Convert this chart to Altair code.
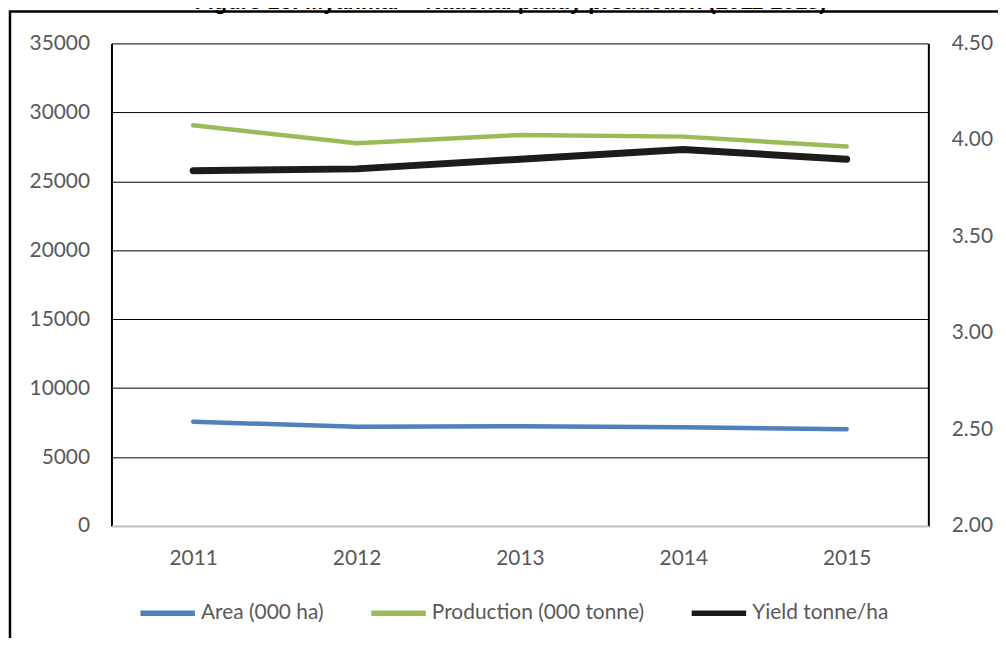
import altair as alt
import pandas as pd

years = ["2011", "2012", "2013", "2014", "2015"]
area = [7560, 7200, 7230, 7160, 7020]
production = [29060, 27760, 28360, 28240, 27520]
yield_t = [3.84, 3.85, 3.90, 3.95, 3.90]
series = ["Area (000 ha)", "Production (000 tonne)", "Yield tonne/ha"]
colors = ["#4F81BD", "#9BBB59", "#1C1C1C"]
left_ticks = [0, 5000, 10000, 15000, 20000, 25000, 30000, 35000]
right_ticks = [2.0, 2.5, 3.0, 3.5, 4.0, 4.5]
title_text = ["Figure 16: Myanmar – National paddy production (2011-2015)"]

left_df = pd.DataFrame({
    "year": years * 2,
    "value": area + production,
    "series": [series[0]] * 5 + [series[1]] * 5,
})
yield_df = pd.DataFrame({"year": years, "value": yield_t, "series": [series[2]] * 5})
title_df = pd.DataFrame({"t": title_text})

FONT = "Lato"
LC = "#595959"

xenc = alt.X(
    "year:N",
    scale=alt.Scale(type="point", padding=0.5),
    axis=alt.Axis(title=None, labelAngle=0, ticks=False, domain=True, domainColor="#BFBFBF",
                  domainWidth=2, labelPadding=22, labelFont=FONT, labelFontSize=21,
                  labelColor=LC, zindex=1),
)

color = alt.Color(
    "series:N",
    scale=alt.Scale(domain=series, range=colors),
    legend=alt.Legend(
        title=None, orient="none", legendX=26, legendY=542, direction="horizontal",
        symbolType="stroke", symbolStrokeWidth=5.5, symbolSize=3000,
        labelFont=FONT, labelFontSize=21, labelColor=LC, labelOffset=3,
        labelLimit=400, columnPadding=36,
    ),
)

left = alt.Chart(left_df).mark_line(strokeWidth=4.5, strokeCap="round", strokeJoin="round").encode(
    x=xenc,
    y=alt.Y("value:Q", scale=alt.Scale(domain=[0, 35000], nice=False),
            axis=alt.Axis(values=left_ticks, format="d", title=None, grid=True, gridColor="black",
                          gridWidth=1, domain=True, domainColor="black", domainWidth=2, ticks=False,
                          labelPadding=22, labelFont=FONT, labelFontSize=21, labelColor=LC)),
    color=color,
)

right = alt.Chart(yield_df).mark_line(strokeWidth=7, strokeCap="round", strokeJoin="round").encode(
    x=xenc,
    y=alt.Y("value:Q", scale=alt.Scale(domain=[2, 4.5], nice=False),
            axis=alt.Axis(orient="right", values=right_ticks, format=".2f", title=None, grid=False,
                          domain=True, domainColor="black", domainWidth=2, ticks=False,
                          labelPadding=23, labelFont=FONT, labelFontSize=21, labelColor=LC)),
    color=color,
)

frame = alt.Chart(title_df).mark_rect(fillOpacity=0, stroke="black", strokeWidth=2.5).encode(
    x=alt.value(-102), x2=alt.value(1500), y=alt.value(-32), y2=alt.value(1500)
)

title = alt.Chart(title_df).mark_text(
    font="Liberation Sans", fontWeight="bold", fontSize=22, align="center", baseline="alphabetic",
    color="black"
).encode(text="t:N", x=alt.value(401), y=alt.value(-35))

chart = alt.layer(frame, left, right, title).resolve_scale(y="independent").properties(
    width=821, height=485,
    autosize=alt.AutoSizeParams(type="none"),
    padding={"left": 104, "top": 34, "right": 70, "bottom": 111},
    background="white",
).configure_view(stroke=None)

chart.save("out.html", embed_options={"renderer": "svg", "actions": False})
